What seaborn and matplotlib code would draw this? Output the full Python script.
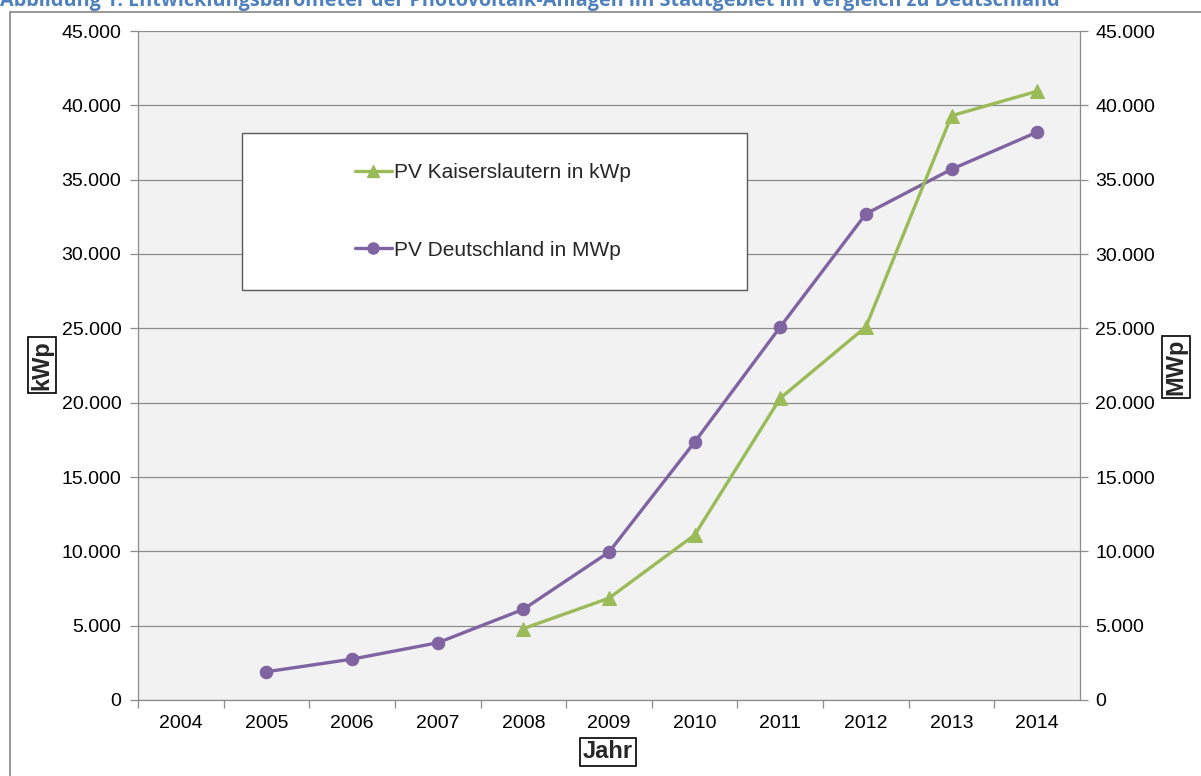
import numpy as np
import pandas as pd
import matplotlib.pyplot as plt
import seaborn as sns
from matplotlib.patches import Rectangle
from matplotlib.ticker import FuncFormatter, MultipleLocator
from matplotlib.lines import Line2D

# Daten
years_all = [2004, 2005, 2006, 2007, 2008, 2009, 2010, 2011, 2012, 2013, 2014]
years_de = [2005, 2006, 2007, 2008, 2009, 2010, 2011, 2012, 2013, 2014]
pv_de_mwp = [1900, 2750, 3850, 6100, 9950, 17350, 25100, 32700, 35700, 38200]
years_kl = [2008, 2009, 2010, 2011, 2012, 2013, 2014]
pv_kl_kwp = [4800, 6850, 11100, 20300, 25100, 39300, 40950]

label_kl = "PV Kaiserslautern in kWp"
label_de = "PV Deutschland in MWp"
title = ("Abbildung 1: Entwicklungsbarometer der Photovoltaik-Anlagen "
         "im Stadtgebiet im Vergleich zu Deutschland")

GREEN = "#9BBB59"
PURPLE = "#8064A2"
GRID = "#8C8C8C"

sns.set_theme(style="white")
plt.rcParams["font.family"] = ["Liberation Sans", "DejaVu Sans"]

W, H = 1201, 776
fig = plt.figure(figsize=(W / 100, H / 100), dpi=100)

def px(x0, y0, x1, y1):
    return [x0 / W, 1 - y1 / H, (x1 - x0) / W, (y1 - y0) / H]

# Rahmen um das Diagramm
fig.patches.append(Rectangle((10 / W, -0.05), 1.1, 1 - 12 / H + 0.05,
                             transform=fig.transFigure, fill=False,
                             ec="#868686", lw=1.2, zorder=0))

ax = fig.add_axes(px(138, 31, 1080, 700))
ax.set_facecolor("#F2F2F2")

df_de = pd.DataFrame({"Jahr": years_de, "Wert": pv_de_mwp})
df_kl = pd.DataFrame({"Jahr": years_kl, "Wert": pv_kl_kwp})

sns.lineplot(data=df_de, x="Jahr", y="Wert", ax=ax, color=PURPLE, lw=2.4,
             marker="o", markersize=9, markeredgecolor=PURPLE, zorder=3)
sns.lineplot(data=df_kl, x="Jahr", y="Wert", ax=ax, color=GREEN, lw=2.4,
             marker="^", markersize=10, markeredgecolor=GREEN, zorder=3)

ax.set_xlim(years_all[0] - 0.5, years_all[-1] + 0.5)
ax.set_ylim(0, 45000)
fmt = FuncFormatter(lambda v, p: "0" if v == 0 else f"{int(v):,}".replace(",", "."))
ax.yaxis.set_major_locator(MultipleLocator(5000))
ax.yaxis.set_major_formatter(fmt)
ax.set_xticks(years_all)
ax.set_xticklabels([str(y) for y in years_all])
ax.set_xticks([y + 0.5 for y in years_all[:-1]] + [years_all[0] - 0.5], minor=True)
ax.grid(axis="y", color=GRID, lw=0.9)
ax.set_axisbelow(True)
ax.set_xlabel("")
ax.set_ylabel("")

ax.tick_params(axis="x", which="major", length=0, pad=11, labelsize=14, colors="black")
ax.tick_params(axis="x", which="minor", bottom=True, length=6, width=0.9, color=GRID)
ax.tick_params(axis="y", left=True, length=6, width=0.9, color=GRID, pad=6,
               labelsize=14, labelcolor="black")
for s in ["left", "bottom", "right"]:
    ax.spines[s].set_color(GRID)
    ax.spines[s].set_linewidth(0.9)
ax.spines["top"].set_visible(False)

ax2 = ax.twinx()
ax2.set_ylim(0, 45000)
ax2.yaxis.set_major_locator(MultipleLocator(5000))
ax2.yaxis.set_major_formatter(fmt)
ax2.tick_params(axis="y", right=True, length=6, width=0.9, color=GRID, pad=5,
                labelsize=14, labelcolor="black")
for s in ax2.spines.values():
    s.set_visible(False)

# Legende mit eigenem Kasten
ax.add_patch(Rectangle((0.110, 0.613), 0.537, 0.234, transform=ax.transAxes,
                       fc="white", ec="#595959", lw=1.0, zorder=4))
handles = [Line2D([], [], color=GREEN, lw=2.4, marker="^", markersize=8),
           Line2D([], [], color=PURPLE, lw=2.4, marker="o", markersize=8)]
leg = ax.legend(handles, [label_kl, label_de], loc="upper left",
                bbox_to_anchor=(0.219, 0.818), frameon=False, borderpad=0,
                handlelength=1.8, handletextpad=0.1, labelspacing=2.8,
                fontsize=15)
leg.set_zorder(5)

box = dict(boxstyle="square,pad=0.12", fc="white", ec="black", lw=1.2)
fig.text(42 / W, 1 - 365 / H, "kWp", rotation=90, ha="center", va="center",
         fontsize=17, fontweight="bold", bbox=box)
fig.text(1176 / W, 1 - 367 / H, "MWp", rotation=90, ha="center", va="center",
         fontsize=17, fontweight="bold", bbox=box)
fig.text(608 / W, 1 - 752 / H, "Jahr", ha="center", va="center",
         fontsize=17, fontweight="bold", bbox=box)

fig.text(0.0, 1 - 6 / H, title, ha="left", va="baseline", color="#4F81BD",
         fontsize=14.3, fontweight="bold", family=["Open Sans", "DejaVu Sans"])

fig.savefig("out.png", dpi=100)
